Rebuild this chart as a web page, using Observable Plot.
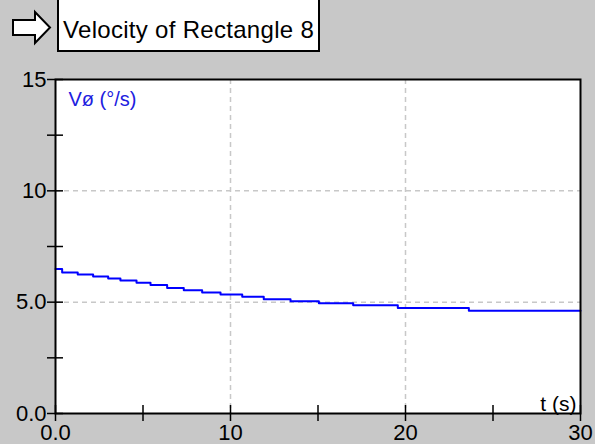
<!DOCTYPE html>
<html>
<head>
<meta charset="utf-8">
<script src="https://cdn.jsdelivr.net/npm/d3@7"></script>
<script src="https://cdn.jsdelivr.net/npm/@observablehq/plot@0.6"></script>
<style>
  html, body { margin: 0; padding: 0; background: #c8c8c8; }
  #wrap { position: relative; width: 595px; height: 444px; overflow: hidden; }
  #title {
    position: absolute; left: 57px; top: -3px; width: 255px; height: 51px;
    background: #fff; border: 2px solid #000; box-sizing: content-box;
    font-family: "Liberation Sans", Arial, sans-serif; font-size: 24px; letter-spacing: 0.3px;
    line-height: 62px; padding-left: 4px; color: #000; white-space: nowrap;
  }
  #arrow { position: absolute; left: 0; top: 0; }
</style>
</head>
<body>
<div id="wrap">
  <div id="chart"></div>
  <svg id="arrow" width="60" height="50"><polygon points="13,20 35,20 35,12 50,27.5 35,43 35,35 13,35" fill="#fff" stroke="#000" stroke-width="2"/></svg>
  <div id="title">Velocity of Rectangle 8</div>
</div>
<script>
// Data (step starts in s, velocity in °/s)
const stepTimes  = [0, 0.38, 1.27, 2.15, 3.01, 3.71, 4.63, 5.43, 6.38, 7.33, 8.38, 9.43, 10.67, 11.9, 13.43, 15.05, 17.01, 19.56, 23.62, 30];
const velocities = [6.49, 6.33, 6.24, 6.15, 6.06, 5.97, 5.87, 5.77, 5.64, 5.53, 5.43, 5.34, 5.24, 5.13, 5.04, 4.95, 4.86, 4.74, 4.62, 4.62];
const xTickValues = [0, 5, 10, 15, 20, 25, 30];
const xLabelValues = [0, 10, 20, 30];
const xLabels = ["0.0", "10", "20", "30"];
const yTickValues = [0, 2.5, 5, 7.5, 10, 12.5, 15];
const yLabelValues = [0, 5, 10, 15];
const yLabels = ["0.0", "5.0", "10", "15"];
const xGrid = [10, 20];
const yGrid = [5, 10];
const seriesLabel = "Vø (°/s)";
const xAxisLabel = "t (s)";

const data = stepTimes.map((t, i) => ({t, v: velocities[i]}));

const chart = Plot.plot({
  width: 595,
  height: 444,
  marginLeft: 55,
  marginRight: 15,
  marginTop: 79,
  marginBottom: 31,
  style: {background: "#c8c8c8", fontFamily: "Liberation Sans, Arial, sans-serif", overflow: "visible"},
  x: {domain: [0, 30]},
  y: {domain: [0, 15]},
  marks: [
    Plot.frame({fill: "#fff", stroke: null}),
    Plot.gridX(xGrid, {stroke: "#c8c8c8", strokeOpacity: 1, strokeWidth: 1.5, strokeDasharray: "5,4"}),
    Plot.gridY(yGrid, {stroke: "#c8c8c8", strokeOpacity: 1, strokeWidth: 1.5, strokeDasharray: "5,4"}),
    Plot.line(data, {x: "t", y: "v", curve: "step-after", stroke: "#0000ff", strokeWidth: 2}),
    Plot.frame({stroke: "#000", strokeWidth: 2}),
    // ticks crossing the axes
    Plot.ruleX(xTickValues, {x: (d) => d, y1: 0, y2: 0, insetTop: -8, insetBottom: -8, stroke: "#000", strokeWidth: 1.5}),
    Plot.ruleY(yTickValues, {y: (d) => d, x1: 0, x2: 0, insetLeft: -8, insetRight: -8, stroke: "#000", strokeWidth: 1.5}),
    Plot.axisX(xLabelValues, {tickSize: 0, tickPadding: 11, label: null, tickFormat: (d) => xLabels[xLabelValues.indexOf(d)], fontSize: 22, fill: "#000"}),
    Plot.axisY(yLabelValues, {tickSize: 0, tickPadding: 9, label: null, tickFormat: (d) => yLabels[yLabelValues.indexOf(d)], fontSize: 22, fill: "#000"}),
    Plot.text([seriesLabel], {frameAnchor: "top-left", dx: 13, dy: 12, text: (d) => d, fill: "#2020e0", fontSize: 20, letterSpacing: "1px", textAnchor: "start", lineAnchor: "top"}),
    Plot.text([xAxisLabel], {frameAnchor: "bottom-right", dx: -4, dy: -3, text: (d) => d, fill: "#000", fontSize: 21, textAnchor: "end", lineAnchor: "bottom"})
  ]
});
document.getElementById("chart").appendChild(chart);
</script>
</body>
</html>
